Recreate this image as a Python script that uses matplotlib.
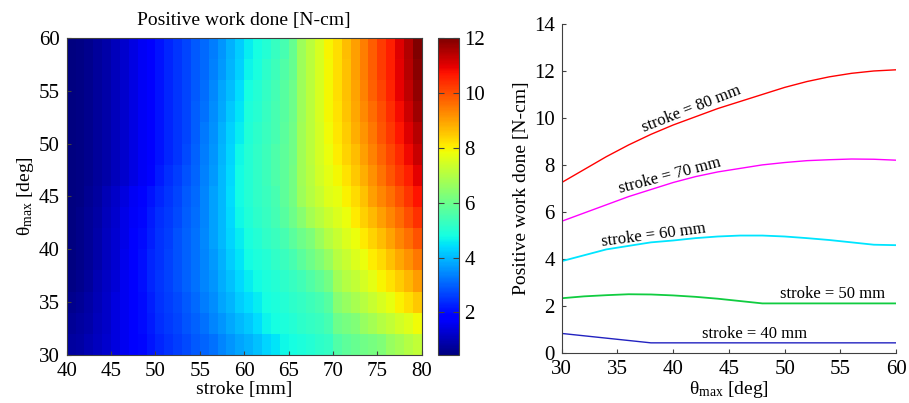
import numpy as np
import matplotlib
matplotlib.use('Agg')
import matplotlib.pyplot as plt

plt.rcParams['font.family'] = ['Liberation Serif', 'DejaVu Serif']
plt.rcParams['mathtext.fontset'] = 'custom'
plt.rcParams['mathtext.rm'] = 'Liberation Serif'
plt.rcParams['mathtext.default'] = 'rm'

# grid of the map (cell edges)
stroke_edges = np.arange(40, 81, 1)     # mm
theta_edges = np.arange(30, 61, 2)      # deg

# positive work done [N-cm], rows theta = 30,32,...,58 ; cols stroke = 40..79
work_map = [
    [0.8,0.85,0.95,1.1,1.25,1.4,1.6,1.8,1.95,2.15, 2.3,2.45,2.6,2.75,2.9,3.05,3.2,3.4,3.6,3.75, 3.9,4.1,4.3,4.5,4.7,4.8,4.9,5.0,5.1,5.2, 5.6,5.8,5.95,6.05,6.15,6.3,6.6,6.8,7.0,7.2],
    [0.7,0.8,0.9,1.05,1.2,1.4,1.6,1.8,2.0,2.2, 2.4,2.55,2.7,2.85,3.0,3.2,3.4,3.6,3.8,4.0, 4.15,4.4,4.65,4.8,4.9,5.0,5.1,5.2,5.3,5.5, 6.0,6.15,6.3,6.6,6.8,7.0,7.2,7.4,7.6,7.85],
    [0.6,0.7,0.85,1.0,1.2,1.4,1.6,1.8,2.0,2.25, 2.45,2.6,2.75,2.9,3.1,3.3,3.5,3.75,3.95,4.2, 4.4,4.6,4.8,4.9,5.0,5.1,5.2,5.35,5.5,5.7, 6.4,6.6,6.85,7.05,7.3,7.5,7.75,8.0,8.25,8.5],
    [0.5,0.6,0.75,0.95,1.15,1.35,1.6,1.8,2.05,2.3, 2.5,2.65,2.8,3.0,3.2,3.4,3.6,3.85,4.1,4.35, 4.6,4.75,4.9,5.0,5.1,5.25,5.4,5.6,5.85,6.1, 6.75,7.0,7.2,7.45,7.7,7.95,8.2,8.45,8.75,9.05],
    [0.45,0.55,0.7,0.9,1.1,1.3,1.55,1.8,2.05,2.3, 2.48,2.65,2.8,3.0,3.2,3.4,3.65,3.9,4.2,4.5, 4.75,4.9,5.0,5.15,5.3,5.5,5.75,6.0,6.3,6.6, 7.05,7.3,7.55,7.8,8.05,8.3,8.6,8.9,9.2,9.5],
    [0.45,0.55,0.7,0.9,1.1,1.3,1.5,1.75,2.0,2.25, 2.45,2.6,2.8,3.0,3.2,3.45,3.7,4.0,4.3,4.6, 4.85,5.0,5.15,5.3,5.5,5.75,6.0,6.25,6.65,7.0, 7.3,7.55,7.8,8.1,8.35,8.65,8.95,9.3,9.6,9.95],
    [0.45,0.55,0.7,0.85,1.05,1.25,1.5,1.7,1.95,2.2, 2.4,2.55,2.75,2.95,3.15,3.4,3.7,4.0,4.35,4.7, 4.95,5.1,5.25,5.45,5.7,6.0,6.4,6.8,7.05,7.35, 7.55,7.8,8.1,8.4,8.7,9.0,9.3,9.65,10.0,10.35],
    [0.45,0.5,0.65,0.8,1.0,1.2,1.4,1.65,1.9,2.1, 2.3,2.5,2.7,2.9,3.1,3.4,3.7,4.0,4.4,4.75, 5.0,5.15,5.3,5.5,5.8,6.1,6.7,7.0,7.3,7.6, 7.75,8.0,8.3,8.6,9.0,9.3,9.6,9.95,10.3,10.7],
    [0.45,0.5,0.6,0.75,0.9,1.05,1.25,1.45,1.65,1.9, 2.2,2.4,2.6,2.8,3.05,3.35,3.65,4.0,4.35,4.75, 5.0,5.15,5.35,5.55,5.8,6.1,6.75,7.05,7.4,7.7, 7.9,8.2,8.5,8.8,9.2,9.55,9.9,10.25,10.6,11.0],
    [0.45,0.5,0.6,0.75,0.9,1.05,1.25,1.45,1.65,1.85, 2.1,2.3,2.5,2.75,3.0,3.3,3.6,3.95,4.3,4.7, 5.0,5.15,5.35,5.55,5.8,6.05,6.75,7.1,7.45,7.8, 8.05,8.35,8.65,9.0,9.35,9.7,10.1,10.45,10.85,11.25],
    [0.45,0.5,0.6,0.75,0.9,1.05,1.25,1.45,1.65,1.85, 2.1,2.3,2.5,2.7,2.95,3.25,3.55,3.9,4.25,4.6, 4.95,5.1,5.3,5.5,5.75,6.05,6.75,7.1,7.45,7.85, 8.15,8.45,8.8,9.15,9.5,9.9,10.25,10.65,11.05,11.45],
    [0.45,0.5,0.6,0.75,0.9,1.05,1.25,1.45,1.65,1.85, 2.1,2.3,2.5,2.7,2.95,3.2,3.5,3.8,4.15,4.5, 4.9,5.05,5.25,5.5,5.7,6.0,6.7,7.1,7.5,7.9, 8.2,8.55,8.9,9.25,9.65,10.0,10.4,10.8,11.2,11.65],
    [0.45,0.5,0.6,0.75,0.9,1.05,1.25,1.45,1.65,1.85, 2.1,2.3,2.5,2.7,2.9,3.15,3.45,3.75,4.05,4.4, 4.8,5.0,5.2,5.45,5.7,6.0,6.7,7.1,7.5,7.9, 8.25,8.6,8.95,9.35,9.75,10.15,10.55,10.95,11.35,11.8],
    [0.45,0.5,0.6,0.75,0.9,1.05,1.25,1.45,1.65,1.85, 2.1,2.3,2.5,2.7,2.9,3.1,3.35,3.65,3.95,4.25, 4.65,4.85,5.1,5.35,5.6,5.95,6.7,7.1,7.5,7.9, 8.25,8.6,9.0,9.4,9.8,10.2,10.6,11.0,11.45,11.9],
    [0.45,0.5,0.6,0.75,0.9,1.05,1.25,1.45,1.65,1.85, 2.1,2.3,2.5,2.7,2.9,3.1,3.3,3.6,3.9,4.2, 4.6,4.8,5.0,5.25,5.5,5.95,6.7,7.1,7.5,7.95, 8.25,8.65,9.0,9.4,9.8,10.2,10.6,11.05,11.5,12.0],
]

# line plot: work vs theta_max for a few strokes
theta = [30, 32, 34, 36, 38, 40, 42, 44, 46, 48, 50, 52, 54, 56, 58, 60]
w80 = [7.25, 7.8, 8.35, 8.85, 9.3, 9.7, 10.05, 10.4, 10.7, 11.0, 11.3, 11.55, 11.75, 11.9, 12.0, 12.05]
w70 = [5.6, 5.95, 6.3, 6.65, 6.95, 7.25, 7.5, 7.7, 7.85, 8.0, 8.1, 8.18, 8.22, 8.25, 8.24, 8.2]
w60 = [3.9, 4.15, 4.4, 4.55, 4.7, 4.78, 4.88, 4.95, 4.99, 4.99, 4.95, 4.88, 4.8, 4.7, 4.6, 4.58]
w50 = [2.32, 2.4, 2.45, 2.49, 2.48, 2.44, 2.38, 2.3, 2.2, 2.1, 2.1, 2.1, 2.1, 2.1, 2.1, 2.1]
w40 = [0.82, 0.72, 0.62, 0.52, 0.42, 0.42, 0.42, 0.42, 0.42, 0.42, 0.42, 0.42, 0.42, 0.42, 0.42, 0.42]

fig = plt.figure(figsize=(9.09, 4.03), dpi=100)
axcol = '0.25'

# ---- left: colour map
ax1 = fig.add_axes([0.0734, 0.119, 0.3905, 0.787])
pc = ax1.pcolormesh(stroke_edges, theta_edges, np.array(work_map), cmap='jet', shading='flat')
ax1.set_xlim(40, 80)
ax1.set_ylim(30, 60)
ax1.set_xticks(range(40, 81, 5))
ax1.set_yticks(range(30, 61, 5))
ax1.tick_params(direction='in', length=3, labelsize=15, colors=axcol, labelcolor='k')
ax1.tick_params(axis='x', pad=5)
ax1.tick_params(axis='y', pad=5)
for s in ax1.spines.values():
    s.set_color(axcol)
    s.set_linewidth(0.8)
ax1.set_xlabel('stroke [mm]', fontsize=14, labelpad=0)
ax1.set_ylabel(r'$\theta_{max}$ [deg]', fontsize=14, labelpad=2)
ax1.set_title('Positive work done [N-cm]', fontsize=14, pad=9)

cax = fig.add_axes([0.4822, 0.119, 0.0231, 0.787])
cb = fig.colorbar(pc, cax=cax, ticks=range(2, 13, 2))
cb.outline.set_edgecolor(axcol)
cb.outline.set_linewidth(0.8)
cax.tick_params(direction='in', length=4, left=True, right=True, labelsize=15, colors=axcol, labelcolor='k')

# ---- right: curves
ax2 = fig.add_axes([0.618, 0.1248, 0.3678, 0.8156])
ax2.plot(theta, w80, color='#ff0000', lw=1.0)
ax2.plot(theta, w70, color='#ff00ff', lw=1.0)
ax2.plot(theta, w60, color='#00e5ff', lw=1.3)
ax2.plot(theta, w50, color='#10cc40', lw=1.3)
ax2.plot(theta, w40, color='#2222c0', lw=1.0)
ax2.set_xlim(30, 60)
ax2.set_ylim(0, 14)
ax2.set_xticks(range(30, 61, 5))
ax2.set_yticks(range(0, 15, 2))
ax2.spines['top'].set_visible(False)
ax2.spines['right'].set_visible(False)
for s in ['left', 'bottom']:
    ax2.spines[s].set_color(axcol)
    ax2.spines[s].set_linewidth(0.8)
ax2.tick_params(direction='in', length=3, labelsize=15, colors=axcol, labelcolor='k')
ax2.tick_params(axis='x', pad=5)
ax2.tick_params(axis='y', pad=5)
ax2.set_xlabel(r'$\theta_{max}$ [deg]', fontsize=14, labelpad=0)
ax2.set_ylabel('Positive work done [N-cm]', fontsize=14, labelpad=3)

ax2.text(41.6, 10.4, 'stroke = 80 mm', fontsize=12, rotation=21.5, ha='center', va='center')
ax2.text(39.7, 7.53, 'stroke = 70 mm', fontsize=12, rotation=14.8, ha='center', va='center')
ax2.text(38.2, 4.99, 'stroke = 60 mm', fontsize=12, rotation=7.4, ha='center', va='center')
ax2.text(54.3, 2.49, 'stroke = 50 mm', fontsize=12, ha='center', va='center')
ax2.text(47.3, 0.8, 'stroke = 40 mm', fontsize=12, ha='center', va='center')

fig.savefig('out.png', dpi=100)
